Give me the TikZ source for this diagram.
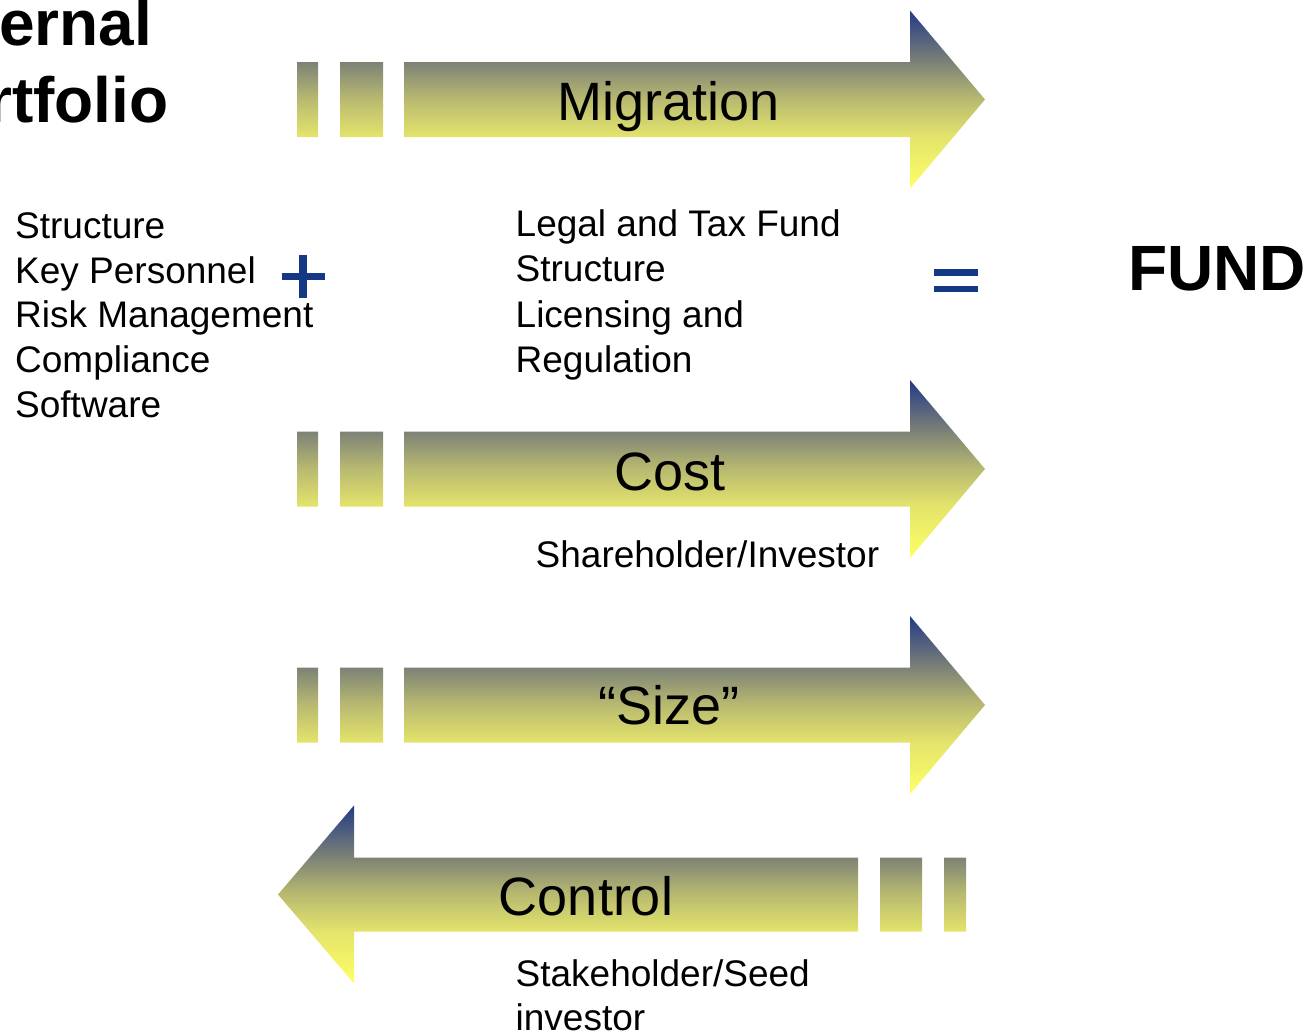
\documentclass[tikz,border=0pt]{standalone}
\usepackage{fontspec}
\setmainfont{Liberation Sans}

\definecolor{bandY}{RGB}{255,255,100}
\definecolor{bandL}{RGB}{228,228,108}
\definecolor{bandM}{RGB}{185,186,112}
\definecolor{bandG}{RGB}{125,130,118}
\definecolor{bandN}{RGB}{35,58,135}
\definecolor{opnavy}{RGB}{20,56,132}

% vertical fill of the band arrows: navy at the top, yellow at the bottom
\pgfdeclareverticalshading{bandshade}{100bp}{
  color(0bp)=(bandY);
  color(25bp)=(bandY);
  color(39.5bp)=(bandL);
  color(50bp)=(bandM);
  color(60.5bp)=(bandG);
  color(75bp)=(bandN);
  color(100bp)=(bandN)}

% right-pointing band arrow centred on height #1
\newcommand{\flowright}[1]{%
  \shade[bandfill]
    (297,#1-37.5) rectangle (318,#1+37.5)
    (340,#1-37.5) rectangle (383,#1+37.5)
    (404,#1-37.5) -- (910,#1-37.5) -- (910,#1-89) -- (985,#1)
      -- (910,#1+89) -- (910,#1+37.5) -- (404,#1+37.5) -- cycle;}

% left-pointing band arrow centred on height #1
\newcommand{\flowleft}[1]{%
  \shade[bandfill]
    (944,#1-37) rectangle (966,#1+37)
    (880,#1-37) rectangle (922,#1+37)
    (858,#1-37) -- (354,#1-37) -- (354,#1-89) -- (278,#1)
      -- (354,#1+89) -- (354,#1+37) -- (858,#1+37) -- cycle;}

\begin{document}
\begin{tikzpicture}[x=1pt,y=-1pt,
  bandfill/.style={shading=bandshade},
  txt/.style={font=\fontsize{37}{45}\selectfont, inner sep=0pt, anchor=base west},
  bandlabel/.style={font=\fontsize{54}{60}\selectfont, inner sep=0pt, anchor=base},
  heading/.style={font=\fontsize{64}{77}\selectfont\bfseries, inner sep=0pt, anchor=base west},
  opbar/.style={fill=opnavy}]

\path[use as bounding box] (0,0) rectangle (1310,1034);
\clip (0,0) rectangle (1310,1034);

% heading, running off the left edge
\node[heading] (h1) at (-1,45) {ernal};
\node[heading] (h2) at (-13,122) {rtfolio};

% the four band arrows
\flowright{99.5}
\flowright{469}
\flowright{705}
\flowleft{894.5}

\node[bandlabel] (mig)  at (669,120) {Migration};
\node[bandlabel] (cost) at (670,490) {Cost};
\node[bandlabel] (size) at (669,724) {“Size”};
\node[bandlabel] (ctrl) at (586,915) {Control};

% left column
\node[txt] (l1) at (15,238.5) {Structure};
\node[txt] (l2) at (15,283.2) {Key Personnel};
\node[txt] (l3) at (15,327.9) {Risk Management};
\node[txt] (l4) at (15,372.6) {Compliance};
\node[txt] (l5) at (15,417.3) {Software};

% plus sign
\fill[opbar] (282,272.7) rectangle (325,280.3);
\fill[opbar] (299.2,255) rectangle (307,298);

% notes under the arrows
\node[txt] (m1) at (515.5,236.7) {Legal and Tax Fund};
\node[txt] (m2) at (515.5,281.9) {Structure};
\node[txt] (m3) at (515.5,327.1) {Licensing and};
\node[txt] (m4) at (515.5,372.3) {Regulation};

\node[txt] (c1) at (535.5,567.3) {Shareholder/Investor};

\node[txt] (k1) at (515.5,986) {Stakeholder/Seed};
\node[txt] (k2) at (515.5,1030.5) {investor};

% equals sign and result
\fill[opbar] (934,269) rectangle (978,275.5);
\fill[opbar] (934,285.7) rectangle (978,292.3);

\node[heading] (fund) at (1128,290.7) {FUND};
\end{tikzpicture}
\end{document}
